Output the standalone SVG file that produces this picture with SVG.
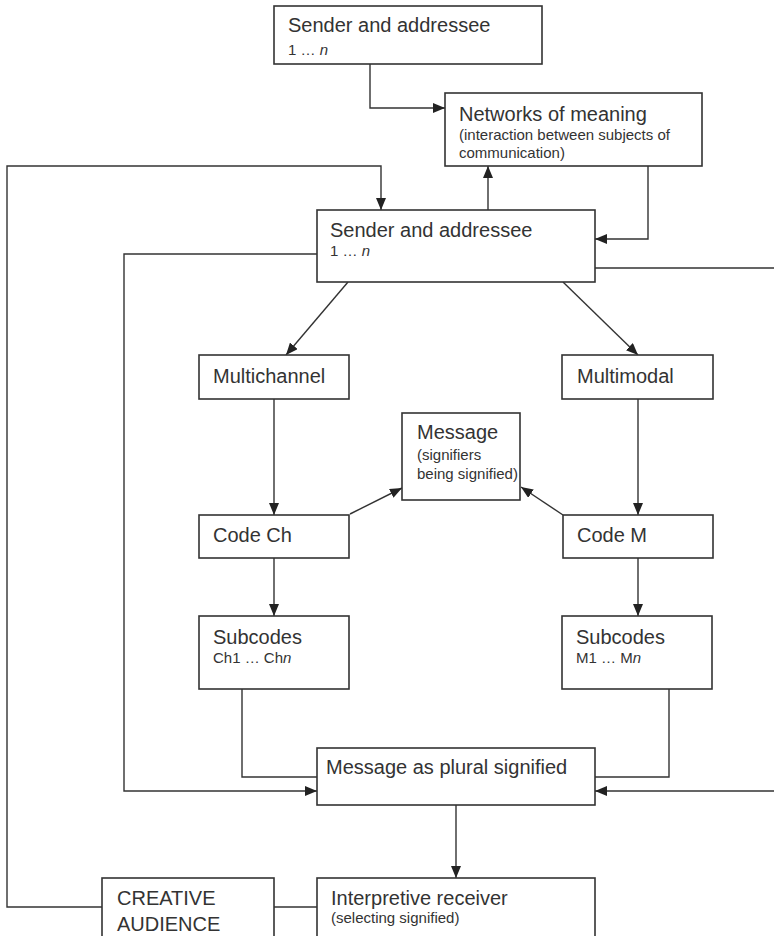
<svg xmlns="http://www.w3.org/2000/svg" width="774" height="936" viewBox="0 0 774 936">
<style>
.box{fill:#fff;stroke:#333;stroke-width:1.6}
.t{font-family:"Liberation Sans",Arial,sans-serif;font-size:20px;fill:#333}
.s{font-family:"Liberation Sans",Arial,sans-serif;font-size:15px;fill:#333}
.c{fill:none;stroke:#333;stroke-width:1.4}
.a{marker-end:url(#arr)}
</style>
<defs>
<marker id="arr" markerUnits="userSpaceOnUse" markerWidth="12" markerHeight="10" viewBox="0 0 12 10" refX="12" refY="5" orient="auto">
<path d="M0,0 L12,5 L0,10 Z" fill="#222"/>
</marker>
</defs>
<rect width="774" height="936" fill="#fff"/>
<g id="connectors">
<path class="c a" d="M370,64 V108 H445"/>
<path class="c a" d="M488,210 V166"/>
<path class="c a" d="M648,166 V239 H595"/>
<path class="c a" d="M102,907 H7 V166 H381 V210"/>
<path class="c a" d="M317,254 H124 V791 H317"/>
<path class="c a" d="M595,268 H790 V791 H595"/>
<path class="c a" d="M348,282 L286,355"/>
<path class="c a" d="M563,282 L638,355"/>
<path class="c a" d="M274,399 V515"/>
<path class="c a" d="M638,399 V515"/>
<path class="c a" d="M350,514 L402,488"/>
<path class="c a" d="M563,515 L521,487"/>
<path class="c a" d="M274,558 V616"/>
<path class="c a" d="M638,558 V616"/>
<path class="c" d="M242,689 V777 H317"/>
<path class="c" d="M669,689 V777 H595"/>
<path class="c a" d="M456,805 V878"/>
<path class="c" d="M274,907 H317"/>
</g>
<g id="sender-top">
<rect class="box" x="274" y="6" width="268" height="58"/>
<text class="t" x="288" y="32">Sender and addressee</text>
<text class="s" x="288" y="55">1 … <tspan font-style="italic">n</tspan></text>
</g>
<g id="networks">
<rect class="box" x="445" y="93" width="257" height="73"/>
<text class="t" x="459" y="121">Networks of meaning</text>
<text class="s" x="459" y="140">(interaction between subjects of</text>
<text class="s" x="459" y="158">communication)</text>
</g>
<g id="sender">
<rect class="box" x="317" y="210" width="278" height="72"/>
<text class="t" x="330" y="237">Sender and addressee</text>
<text class="s" x="330" y="256">1 … <tspan font-style="italic">n</tspan></text>
</g>
<g id="multichannel">
<rect class="box" x="199" y="355" width="150" height="44"/>
<text class="t" x="213" y="383">Multichannel</text>
</g>
<g id="multimodal">
<rect class="box" x="562" y="355" width="151" height="44"/>
<text class="t" x="577" y="383">Multimodal</text>
</g>
<g id="message">
<rect class="box" x="402" y="413" width="118" height="87"/>
<text class="t" x="417" y="439">Message</text>
<text class="s" x="417" y="460">(signifiers</text>
<text class="s" x="417" y="479">being signified)</text>
</g>
<g id="code-ch">
<rect class="box" x="199" y="515" width="150" height="43"/>
<text class="t" x="213" y="542">Code Ch</text>
</g>
<g id="code-m">
<rect class="box" x="563" y="515" width="150" height="43"/>
<text class="t" x="577" y="542">Code M</text>
</g>
<g id="subcodes-ch">
<rect class="box" x="199" y="616" width="150" height="73"/>
<text class="t" x="213" y="644">Subcodes</text>
<text class="s" x="213" y="663">Ch1 … Ch<tspan font-style="italic">n</tspan></text>
</g>
<g id="subcodes-m">
<rect class="box" x="562" y="616" width="150" height="73"/>
<text class="t" x="576" y="644">Subcodes</text>
<text class="s" x="576" y="663">M1 … M<tspan font-style="italic">n</tspan></text>
</g>
<g id="plural">
<rect class="box" x="317" y="748" width="278" height="57"/>
<text class="t" x="326" y="774">Message as plural signified</text>
</g>
<g id="creative">
<rect class="box" x="102" y="878" width="172" height="70"/>
<text class="t" x="117" y="905">CREATIVE</text>
<text class="t" x="117" y="931">AUDIENCE</text>
</g>
<g id="interpretive">
<rect class="box" x="317" y="878" width="278" height="70"/>
<text class="t" x="331" y="905">Interpretive receiver</text>
<text class="s" x="331" y="923">(selecting signified)</text>
</g>
</svg>
